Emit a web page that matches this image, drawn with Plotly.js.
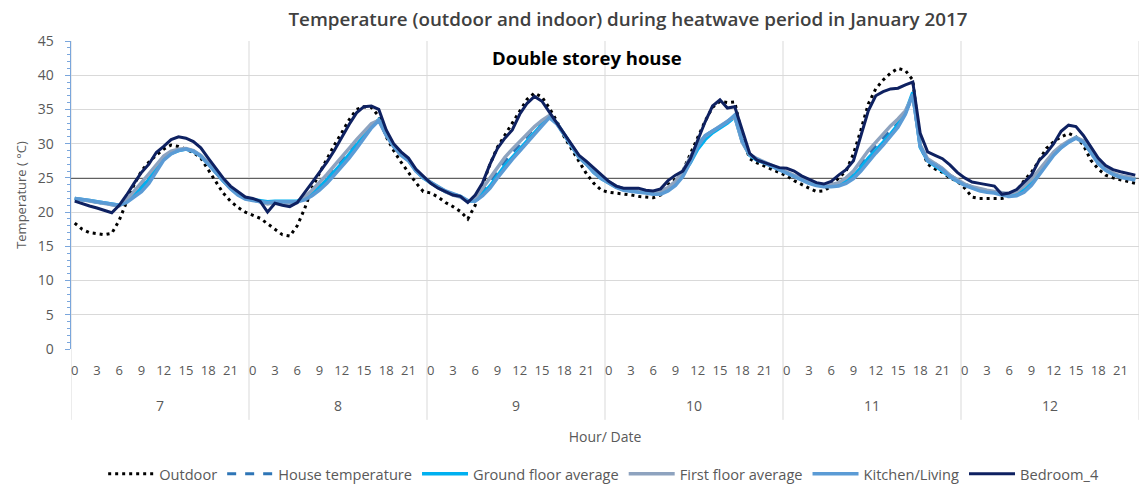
<!DOCTYPE html>
<html>
<head>
<meta charset="utf-8">
<script src="https://cdn.plot.ly/plotly-3.0.1.min.js"></script>
<style>html,body{margin:0;padding:0;background:#fff;}#chart{width:1139px;height:484px;}</style>
</head>
<body>
<div id="chart"></div>
<script>
// ---- data ----
const dates = [7, 8, 9, 10, 11, 12];
const hours = [0,1,2,3,4,5,6,7,8,9,10,11,12,13,14,15,16,17,18,19,20,21,22,23];
const hourTickStep = 3;
const comfortThreshold = 25;

const outdoor = [
  18.4,17.5,17.0,16.8,16.7,16.9,18.8,21.5,24.0,26.0,27.3,28.3,29.2,29.8,29.6,29.2,28.7,27.9,26.2,24.4,22.8,21.6,20.7,20.0,
  19.5,19.1,18.3,17.5,16.7,16.5,18.0,20.5,23.5,25.7,27.8,29.8,31.6,33.5,35.0,35.4,35.3,34.0,31.0,29.0,27.3,25.8,24.3,23.0,
  22.8,22.2,21.4,20.8,20.1,19.0,21.0,24.0,27.0,29.5,31.3,33.0,34.8,36.5,37.4,36.8,35.2,33.3,31.0,29.2,27.3,25.6,24.2,23.2,
  22.9,22.8,22.6,22.5,22.3,22.2,22.1,22.5,24.0,24.8,26.0,28.5,30.8,33.3,35.3,36.2,36.0,36.1,31.0,27.8,27.2,26.7,26.2,25.7,
  25.3,24.6,24.0,23.5,23.0,23.1,23.8,25.0,26.0,28.5,32.0,35.8,38.0,39.3,40.3,41.0,40.7,39.3,29.8,27.0,26.3,25.8,25.0,24.5,
  23.5,22.2,22.0,22.0,22.0,22.0,22.3,23.0,24.6,25.8,27.5,29.3,30.3,31.0,31.5,31.0,29.8,27.6,26.3,25.4,25.0,24.7,24.4,24.2
];
const houseTemp = [
  22.0,21.8,21.6,21.4,21.2,21.0,20.9,21.5,22.6,23.7,25.0,26.6,27.9,28.7,29.1,29.2,28.9,28.2,27.1,25.8,24.6,23.5,22.6,22.0,
  21.8,21.5,21.3,21.5,21.4,21.4,21.5,22.0,22.8,23.8,24.9,26.2,27.4,28.7,30.0,31.4,32.7,33.4,31.3,29.6,28.4,27.6,26.1,25.1,
  24.3,23.6,23.0,22.6,22.3,21.6,21.9,23.0,24.4,25.9,27.4,28.7,29.9,31.1,32.3,33.2,34.0,32.9,31.3,29.6,28.1,27.1,25.9,25.0,
  24.4,23.8,23.4,23.2,23.0,22.9,22.8,22.9,23.5,24.4,25.7,27.7,29.8,31.2,31.8,32.5,33.2,34.1,30.3,28.4,27.7,27.3,26.8,26.3,
  25.8,25.3,24.8,24.4,24.1,23.9,23.9,24.1,24.7,25.6,27.0,28.4,29.7,30.8,31.9,33.0,34.5,36.9,29.7,27.7,27.1,26.4,25.4,24.7,
  24.1,23.7,23.3,23.1,23.0,22.7,22.6,22.8,23.5,24.5,25.9,27.4,28.7,29.6,30.3,30.9,30.4,28.9,27.3,26.3,25.7,25.3,25.1,24.9
];
const groundFloor = [
  22.0,21.9,21.7,21.5,21.3,21.1,21.0,21.6,22.5,23.5,24.8,26.5,27.8,28.6,29.0,29.2,28.9,28.2,27.1,25.8,24.6,23.5,22.6,22.0,
  21.8,21.6,21.5,21.6,21.6,21.6,21.6,22.0,22.7,23.6,24.7,25.9,27.1,28.4,29.8,31.2,32.6,33.5,31.5,29.7,28.5,27.6,26.1,25.0,
  24.3,23.6,23.0,22.6,22.3,21.6,21.7,22.7,23.8,25.3,26.8,28.0,29.2,30.5,31.7,32.9,34.0,33.0,31.3,29.5,28.0,27.0,25.8,24.9,
  24.3,23.7,23.3,23.1,23.0,22.9,22.7,22.8,23.3,24.2,25.6,27.2,29.2,30.6,31.6,32.3,33.0,33.9,30.3,28.3,27.6,27.2,26.7,26.2,
  25.7,25.2,24.7,24.3,24.0,23.8,23.8,24.0,24.5,25.3,26.5,27.9,29.0,30.2,31.4,32.8,34.5,37.5,29.5,27.5,26.8,26.0,25.2,24.5,
  24.0,23.6,23.2,23.0,22.9,22.6,22.4,22.6,23.2,24.2,25.6,27.2,28.5,29.5,30.3,30.9,30.3,28.8,27.2,26.2,25.6,25.2,25.0,24.8
];
const firstFloor = [
  22.0,21.8,21.6,21.4,21.2,21.0,20.9,21.8,23.0,24.3,25.6,27.0,28.2,28.9,29.2,29.3,29.0,28.3,27.2,25.9,24.7,23.6,22.7,22.1,
  21.8,21.5,21.2,21.4,21.3,21.2,21.4,22.2,23.2,24.3,25.5,26.8,28.0,29.3,30.6,31.8,32.9,33.4,31.3,29.6,28.4,27.6,26.1,25.1,
  24.3,23.6,23.0,22.5,22.2,21.5,22.0,23.5,25.0,26.6,28.0,29.2,30.3,31.4,32.5,33.4,34.1,33.0,31.3,29.6,28.1,27.1,25.9,25.0,
  24.4,23.8,23.4,23.2,23.0,22.9,22.8,23.0,23.6,24.5,26.0,28.0,30.0,31.1,31.8,32.5,33.2,34.0,30.2,28.4,27.8,27.3,26.8,26.3,
  25.8,25.3,24.8,24.4,24.1,23.9,24.0,24.3,25.0,26.0,27.5,29.0,30.2,31.4,32.6,33.6,34.8,37.0,29.8,27.8,27.1,26.4,25.4,24.7,
  24.1,23.7,23.4,23.2,23.0,22.8,22.7,23.0,23.8,24.8,26.2,27.6,28.8,29.7,30.4,30.9,30.4,28.9,27.3,26.3,25.7,25.3,25.1,24.9
];
const kitchenLiving = [
  22.0,21.9,21.7,21.5,21.3,21.1,21.0,21.4,22.2,23.0,24.2,26.0,27.6,28.5,29.0,29.2,28.9,28.2,27.0,25.7,24.5,23.4,22.5,21.9,
  21.7,21.5,21.4,21.5,21.5,21.5,21.5,21.8,22.4,23.2,24.2,25.4,26.6,27.9,29.3,30.8,32.3,33.4,31.2,29.6,28.3,27.5,26.0,25.0,
  24.4,23.7,23.1,22.7,22.3,21.7,21.6,22.4,23.5,25.0,26.4,27.7,28.9,30.2,31.4,32.6,33.8,32.9,31.3,29.6,28.0,27.0,25.8,24.9,
  24.2,23.6,23.2,23.0,22.9,22.8,22.6,22.6,23.1,23.9,25.2,27.3,29.6,31.2,31.8,32.5,33.2,34.2,30.4,28.4,27.7,27.2,26.7,26.2,
  25.6,25.1,24.6,24.2,23.9,23.7,23.7,23.8,24.2,24.9,26.0,27.4,28.6,29.8,31.1,32.4,34.3,37.2,29.6,27.5,26.9,26.2,25.2,24.5,
  23.9,23.5,23.1,22.9,22.8,22.5,22.3,22.4,22.9,23.9,25.3,26.9,28.3,29.4,30.2,30.8,30.2,28.7,27.1,26.1,25.5,25.1,24.9,24.7
];
const bedroom4 = [
  21.6,21.2,20.9,20.6,20.3,19.9,21.0,22.5,24.2,25.8,27.0,28.7,29.6,30.6,31.0,30.8,30.3,29.4,27.9,26.4,25.0,23.8,23.0,22.2,
  22.0,21.6,20.0,21.3,21.0,20.8,21.4,22.8,24.3,25.8,27.3,29.0,31.0,32.8,34.5,35.4,35.5,35.0,32.0,30.0,28.8,27.9,26.3,25.3,
  24.2,23.5,23.0,22.5,22.3,21.4,22.5,24.3,27.0,29.3,30.8,32.0,34.3,35.9,36.9,36.2,34.6,33.0,31.5,29.8,28.3,27.4,26.4,25.4,
  24.5,23.8,23.5,23.5,23.5,23.2,23.1,23.4,24.6,25.4,26.0,27.8,30.5,33.2,35.5,36.4,35.2,35.4,32.0,28.6,27.6,27.2,26.8,26.5,
  26.4,26.0,25.3,24.8,24.3,24.1,24.5,25.4,26.2,27.5,31.0,34.8,37.0,37.6,38.0,38.1,38.6,39.0,31.5,28.8,28.3,27.8,26.9,25.8,
  25.0,24.4,24.2,24.0,23.8,22.6,22.8,23.3,24.3,25.4,27.5,28.6,30.0,31.8,32.7,32.5,31.2,29.5,27.9,26.8,26.2,25.9,25.7,25.4
];

// ---- build x positions (one category slot per hour) ----
const nHours = hours.length;
const xIdx = [];
dates.forEach((d, di) => hours.forEach((h, hi) => xIdx.push(di * nHours + hi)));
const tickVals = [], tickText = [];
dates.forEach((d, di) => hours.forEach((h, hi) => {
  if (h % hourTickStep === 0) { tickVals.push(di * nHours + hi); tickText.push(String(h)); }
}));

const grey = '#595959';
const fontFam = '"Open Sans", "Noto Sans", sans-serif';

const traces = [
  {name: 'Outdoor', y: outdoor, line: {color: '#000000', width: 3, dash: '3px,4px'}},
  {name: 'House temperature', y: houseTemp, line: {color: '#2E75B6', width: 3, dash: 'dash'}},
  {name: 'Ground floor average', y: groundFloor, line: {color: '#00B0F0', width: 3.5}},
  {name: 'First floor average', y: firstFloor, line: {color: '#8EA3BF', width: 3.5}},
  {name: 'Kitchen/Living', y: kitchenLiving, line: {color: '#5B9BD5', width: 3.5}},
  {name: 'Bedroom_4', y: bedroom4, line: {color: '#0E2161', width: 3}}
].map(t => Object.assign({type: 'scatter', mode: 'lines', x: xIdx, hoverinfo: 'skip'}, t));

// day separators and day labels
const shapes = [];
for (let di = 0; di <= dates.length; di++) {
  shapes.push({type: 'line', xref: 'x', yref: 'paper', x0: di * nHours - 0.5, x1: di * nHours - 0.5,
    y0: -0.23, y1: 1, line: {color: '#D9D9D9', width: 1}, layer: 'below'});
}
shapes.push({type: 'line', xref: 'paper', yref: 'y', x0: 0, x1: 1, y0: comfortThreshold, y1: comfortThreshold,
  line: {color: '#606060', width: 2}, layer: 'below'});

const annotations = dates.map((d, di) => ({
  xref: 'x', yref: 'paper', x: di * nHours + (nHours - 1) / 2, y: 0, yanchor: 'middle', yshift: -56,
  text: String(d), showarrow: false, font: {size: 14, color: grey, family: fontFam}
}));
annotations.push({xref: 'paper', yref: 'paper', x: 0.483, y: 0.945, xanchor: 'center', yanchor: 'middle',
  text: '<b>Double storey house</b>', showarrow: false, font: {size: 18.5, color: '#000000', family: fontFam}});

const layout = {
  width: 1139, height: 484, autosize: false,
  margin: {l: 71, r: 0, t: 41, b: 135},
  paper_bgcolor: '#ffffff', plot_bgcolor: '#ffffff',
  font: {family: fontFam, color: grey, size: 13},
  title: {text: 'Temperature (outdoor and indoor) during heatwave period in January 2017',
    x: 0.5215, xref: 'paper', xanchor: 'center', y: 0.959, yref: 'container', yanchor: 'middle',
    font: {size: 18.8, color: '#404040', family: fontFam, weight: 600}},
  xaxis: {range: [-0.5, nHours * dates.length - 0.5], tickmode: 'array', tickvals: tickVals, ticktext: tickText,
    showgrid: false, zeroline: false, showline: false, ticks: '', ticklabelstandoff: 12,
    tickfont: {size: 13, color: grey},
    title: {text: 'Hour/ Date', font: {size: 14, color: grey}, standoff: 54}},
  yaxis: {range: [0, 45], dtick: 5, tick0: 0, gridcolor: '#D9D9D9', gridwidth: 1, zeroline: false,
    showline: true, linecolor: '#7AA6DC', linewidth: 1.5, ticks: 'outside', ticklen: 5, tickcolor: '#7AA6DC',
    minor: {dtick: 1, ticks: 'outside', ticklen: 3, tickcolor: '#7AA6DC', showgrid: false},
    ticklabelstandoff: 8, tickfont: {size: 14, color: grey},
    title: {text: 'Temperature ( °C)', font: {size: 13, color: grey}, standoff: 8}},
  legend: {orientation: 'h', x: 0.53, xref: 'container', xanchor: 'center', y: 0.021, yref: 'container', yanchor: 'middle',
    font: {size: 14.6, color: grey}, traceorder: 'normal', itemwidth: 46},
  shapes: shapes, annotations: annotations, showlegend: true
};

Plotly.newPlot('chart', traces, layout, {displayModeBar: false, staticPlot: true});
</script>
</body>
</html>
